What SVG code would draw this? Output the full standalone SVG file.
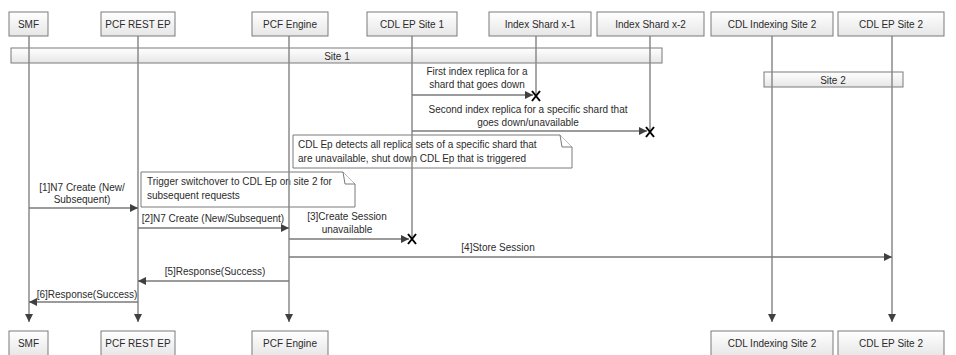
<svg xmlns="http://www.w3.org/2000/svg" width="956" height="355" viewBox="0 0 956 355">
<defs>
<linearGradient id="boxg" x1="0" y1="0" x2="0" y2="1">
<stop offset="0" stop-color="#ffffff"/>
<stop offset="1" stop-color="#e6e6e6"/>
</linearGradient>
<marker id="arr" viewBox="0 0 10 10" refX="10" refY="5" markerWidth="9" markerHeight="8" markerUnits="userSpaceOnUse" orient="auto">
<path d="M0,0 L10,5 L0,10 Z" fill="#404040"/>
</marker>
<path id="xmark" d="M-4,-5 L4,5 M4,-5 L-4,5" stroke="#000" stroke-width="2" fill="none"/>
</defs>
<style>
.box{fill:url(#boxg);stroke:#7a7a7a;stroke-width:1}
.bar{fill:url(#boxg);stroke:#7a7a7a;stroke-width:1}
.note{fill:#ffffff;stroke:#7a7a7a;stroke-width:1}
.t{font-family:"Liberation Sans",Arial,sans-serif;font-size:10px;fill:#2b2b2b}
.c{text-anchor:middle}
.life{stroke:#8a8a8a;stroke-width:1.5;fill:none}
.msg{stroke:#7a7a7a;stroke-width:1.5;fill:none;marker-end:url(#arr)}
</style>
<rect width="956" height="355" fill="#ffffff"/>

<g id="site1">
<rect class="bar" x="11" y="48" width="651" height="15"/>
<text class="t c" x="337" y="59.5">Site 1</text>
</g>
<g id="site2">
<rect class="bar" x="764" y="72" width="139" height="15"/>
<text class="t c" x="833" y="83.5">Site 2</text>
</g>

<g id="note-detect">
<path class="note" d="M293,135 H560 L572,147 V168 H293 Z"/>
<path class="note" d="M560,135 L562,147 H572" fill="none"/>
<text class="t" x="298" y="148">CDL Ep detects all replica sets of a specific shard that</text>
<text class="t" x="298" y="162">are unavailable, shut down CDL Ep that is triggered</text>
</g>
<g id="note-trigger">
<path class="note" d="M141,172 H343 L355,184 V207 H141 Z"/>
<path class="note" d="M343,172 L345,184 H355" fill="none"/>
<text class="t" x="147" y="185">Trigger switchover to CDL Ep on site 2 for</text>
<text class="t" x="147" y="199">subsequent requests</text>
</g>

<g id="connectors">
<line class="life" x1="29" y1="36" x2="29" y2="322" marker-end="url(#arr)"/>
<line class="life" x1="138" y1="36" x2="138" y2="322" marker-end="url(#arr)"/>
<line class="life" x1="289" y1="36" x2="289" y2="322" marker-end="url(#arr)"/>
<line class="life" x1="412" y1="36" x2="412" y2="239"/>
<line class="life" x1="536" y1="36" x2="536" y2="95"/>
<line class="life" x1="650" y1="36" x2="650" y2="131"/>
<line class="life" x1="772" y1="36" x2="772" y2="322" marker-end="url(#arr)"/>
<line class="life" x1="892" y1="36" x2="892" y2="322" marker-end="url(#arr)"/>

<line class="msg" x1="412" y1="95" x2="533" y2="95"/>
<use href="#xmark" x="536" y="96"/>
<text class="t c" x="477" y="75">First index replica for a</text>
<text class="t c" x="477" y="88">shard that goes down</text>

<line class="msg" x1="412" y1="131" x2="647" y2="131"/>
<use href="#xmark" x="650" y="132"/>
<text class="t c" x="528" y="113">Second index replica for a specific shard that</text>
<text class="t c" x="528" y="126">goes down/unavailable</text>

<line class="msg" x1="29" y1="208" x2="138" y2="208"/>
<text class="t c" x="82" y="191">[1]N7 Create (New/</text>
<text class="t c" x="82" y="203">Subsequent)</text>

<line class="msg" x1="138" y1="228" x2="289" y2="228"/>
<text class="t c" x="213" y="222">[2]N7 Create (New/Subsequent)</text>

<line class="msg" x1="289" y1="239" x2="409" y2="239"/>
<use href="#xmark" x="412" y="239"/>
<text class="t c" x="347" y="220">[3]Create Session</text>
<text class="t c" x="347" y="233">unavailable</text>

<line class="msg" x1="289" y1="257" x2="892" y2="257"/>
<text class="t c" x="498" y="251">[4]Store Session</text>

<line class="msg" x1="289" y1="281" x2="138" y2="281"/>
<text class="t c" x="215" y="275">[5]Response(Success)</text>

<line class="msg" x1="138" y1="302" x2="29" y2="302"/>
<text class="t c" x="87" y="298">[6]Response(Success)</text>
</g>

<g id="smf">
<rect class="box" x="9" y="12" width="39" height="24"/>
<text class="t c" x="28.5" y="27.5">SMF</text>
<rect class="box" x="9" y="331" width="39" height="26"/>
<text class="t c" x="28.5" y="347">SMF</text>
</g>
<g id="pcf-rest-ep">
<rect class="box" x="101" y="12" width="74" height="24"/>
<text class="t c" x="138" y="27.5">PCF REST EP</text>
<rect class="box" x="101" y="331" width="74" height="26"/>
<text class="t c" x="138" y="347">PCF REST EP</text>
</g>
<g id="pcf-engine">
<rect class="box" x="252" y="12" width="76" height="24"/>
<text class="t c" x="290" y="27.5">PCF Engine</text>
<rect class="box" x="252" y="331" width="76" height="26"/>
<text class="t c" x="290" y="347">PCF Engine</text>
</g>
<g id="cdl-ep-site1">
<rect class="box" x="367" y="12" width="90" height="24"/>
<text class="t c" x="412" y="27.5">CDL EP Site 1</text>
</g>
<g id="index-shard-x1">
<rect class="box" x="489" y="12" width="102" height="24"/>
<text class="t c" x="540" y="27.5">Index Shard x-1</text>
</g>
<g id="index-shard-x2">
<rect class="box" x="597" y="12" width="107" height="24"/>
<text class="t c" x="650.5" y="27.5">Index Shard x-2</text>
</g>
<g id="cdl-indexing-site2">
<rect class="box" x="711" y="12" width="122" height="24"/>
<text class="t c" x="772" y="27.5">CDL Indexing Site 2</text>
<rect class="box" x="711" y="331" width="122" height="26"/>
<text class="t c" x="772" y="347">CDL Indexing Site 2</text>
</g>
<g id="cdl-ep-site2">
<rect class="box" x="838" y="12" width="106" height="24"/>
<text class="t c" x="891" y="27.5">CDL EP Site 2</text>
<rect class="box" x="838" y="331" width="106" height="26"/>
<text class="t c" x="891" y="347">CDL EP Site 2</text>
</g>
</svg>
